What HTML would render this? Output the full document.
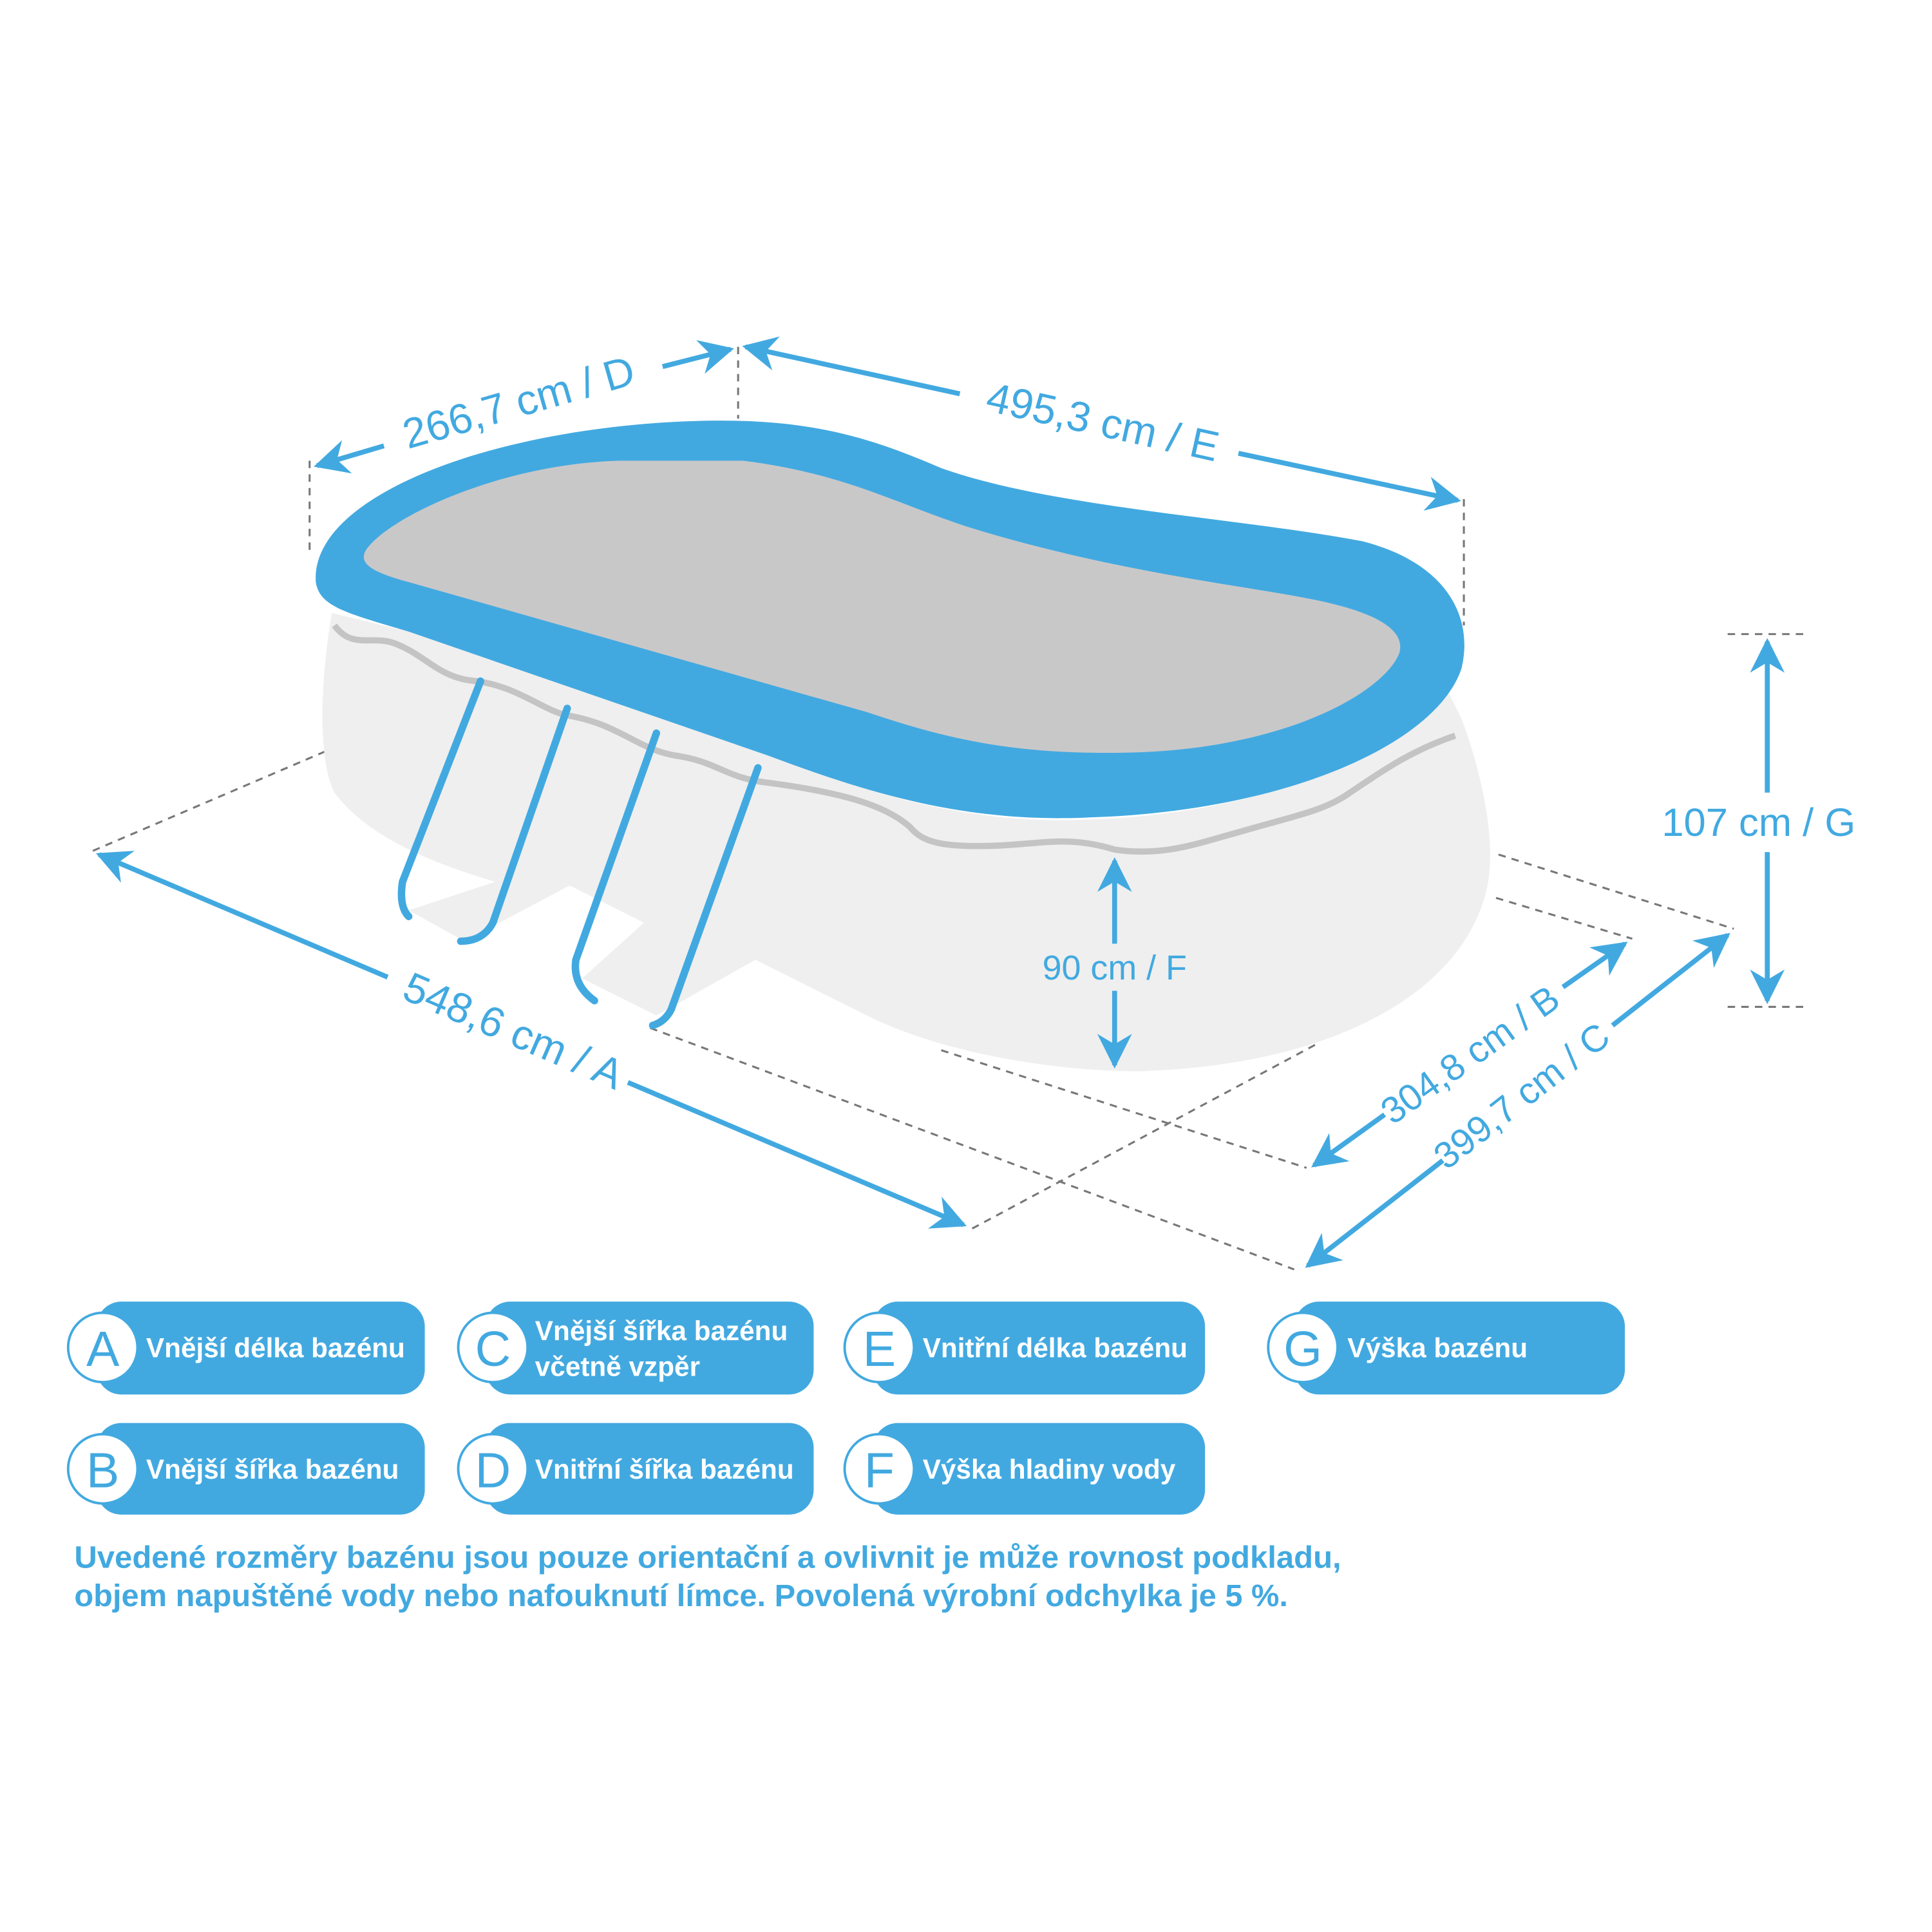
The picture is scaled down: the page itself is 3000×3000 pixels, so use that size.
<!DOCTYPE html>
<html><head><meta charset="utf-8"><style>
html,body{margin:0;padding:0;background:#fff}
svg{display:block}
text{font-family:"Liberation Sans",sans-serif}
</style></head><body>
<svg width="3000" height="3000" viewBox="0 0 1560 1560" xmlns="http://www.w3.org/2000/svg">
<defs>
<marker id="ah" viewBox="0 0 10 10" refX="9" refY="5" markerWidth="7" markerHeight="7" orient="auto-start-reverse" markerUnits="strokeWidth">
<path d="M0,0 L10,5 L0,10 L3,5 Z" fill="#42a9e0"/>
</marker>
</defs>
<rect width="1560" height="1560" fill="#fff"/>
<g stroke="#777" stroke-width="1.6" stroke-dasharray="6,5" fill="none">
<line x1="75" y1="687" x2="262" y2="607"/>
<line x1="1210" y1="690" x2="1400" y2="750"/>
<line x1="1208" y1="725" x2="1318" y2="758"/>
<line x1="525" y1="830" x2="1045" y2="1025"/>
<line x1="760" y1="848" x2="1055" y2="943"/>
<line x1="785" y1="992" x2="1065" y2="842"/>
<line x1="250" y1="372" x2="250" y2="445"/>
<line x1="596" y1="280" x2="596" y2="338"/>
<line x1="1182" y1="403" x2="1182" y2="505"/>
<line x1="1395" y1="512" x2="1460" y2="512"/>
<line x1="1395" y1="813" x2="1460" y2="813"/>
</g>
<path d="M268,495 C260,540 255,610 270,640 C300,680 360,700 400,712 L330,735 L375,760 L460,715 L520,745 L470,790 L530,820 L610,775 L700,820 C760,850 850,865 920,865 C1080,860 1180,800 1200,720 C1210,680 1195,620 1180,580 L1170,560 C1100,630 980,660 870,662 C780,665 700,640 620,610 L330,510 Z" fill="#efefef"/>
<path d="M270,505 C285,525 300,512 320,520 C345,530 355,548 385,550 C420,555 440,575 460,578 C500,585 515,605 545,610 C580,615 585,628 620,632 C680,640 715,650 735,668 C745,680 760,684 800,683 C840,682 860,674 900,686 C940,692 970,680 1000,672 C1040,660 1070,655 1090,640 C1120,620 1140,606 1175,594" fill="none" stroke="#c4c4c4" stroke-width="5"/>
<path d="M255,470 C250,400 400,345 560,340 C650,337 700,352 760,378 C850,410 1000,418 1100,437 C1170,455 1190,500 1180,540 C1160,600 1040,655 880,660 C780,665 700,640 620,610 L330,510 C280,495 258,490 255,470 Z" fill="#42a9e0"/>
<path d="M295,445 C310,420 400,375 500,372 L600,372 C680,382 720,405 780,425 C900,462 1000,472 1060,484 C1110,494 1135,508 1130,527 C1120,555 1050,600 930,607 C820,612 760,595 700,575 L330,470 C300,462 290,455 295,445 Z" fill="#c9c8c9"/>
<g stroke="#42a9e0" stroke-width="6" fill="none" stroke-linecap="round">
<path d="M388,550 L325,712 Q322,732 330,740"/>
<path d="M458,572 L398,745 Q390,760 372,760"/>
<path d="M530,592 L465,775 Q462,795 480,808"/>
<path d="M612,620 L542,815 Q537,825 527,828"/>
</g>
<g stroke="#42a9e0" stroke-width="4" fill="none">
<line x1="80" y1="690" x2="313" y2="789" marker-start="url(#ah)"/>
<line x1="507" y1="874" x2="778" y2="989" marker-end="url(#ah)"/>
<line x1="256" y1="376" x2="310" y2="360" marker-start="url(#ah)"/>
<line x1="535" y1="296" x2="590" y2="282" marker-end="url(#ah)"/>
<line x1="602" y1="280" x2="775" y2="318" marker-start="url(#ah)"/>
<line x1="1000" y1="366" x2="1177" y2="404" marker-end="url(#ah)"/>
<line x1="1061" y1="941" x2="1118" y2="900" marker-start="url(#ah)"/>
<line x1="1262" y1="797" x2="1312" y2="762" marker-end="url(#ah)"/>
<line x1="1056" y1="1022" x2="1165" y2="937" marker-start="url(#ah)"/>
<line x1="1302" y1="828" x2="1395" y2="755" marker-end="url(#ah)"/>
<line x1="1427" y1="518" x2="1427" y2="640" marker-start="url(#ah)"/>
<line x1="1427" y1="688" x2="1427" y2="808" marker-end="url(#ah)"/>
<line x1="900" y1="695" x2="900" y2="762" marker-start="url(#ah)"/>
<line x1="900" y1="800" x2="900" y2="860" marker-end="url(#ah)"/>
</g>
<g fill="#42a9e0" font-size="34" text-anchor="middle">
<text transform="translate(410,843) rotate(23.2)">548,6 cm / A</text>
<text transform="translate(422,336) rotate(-16)">266,7 cm / D</text>
<text transform="translate(888,352) rotate(12.5)">495,3 cm / E</text>
<text transform="translate(1193,860) rotate(-35.5)" font-size="30">304,8 cm / B</text>
<text transform="translate(1235,893) rotate(-38)" font-size="30">399,7 cm / C</text>
<text x="1420" y="675" font-size="32">107 cm / G</text>
<text x="900" y="791" font-size="28">90 cm / F</text>
</g>
<g font-size="22" font-weight="bold">
<g>
<rect x="78" y="1051" width="265" height="75" rx="20" fill="#42a9e0"/>
<circle cx="83" cy="1088" r="28" fill="#fff" stroke="#42a9e0" stroke-width="2"/>
<text x="83" y="1103" font-size="40" font-weight="normal" fill="#42a9e0" text-anchor="middle">A</text>
<text x="118" y="1096" fill="#fff">Vnější délka bazénu</text>
</g>
<g>
<rect x="392" y="1051" width="265" height="75" rx="20" fill="#42a9e0"/>
<circle cx="398" cy="1088" r="28" fill="#fff" stroke="#42a9e0" stroke-width="2"/>
<text x="398" y="1103" font-size="40" font-weight="normal" fill="#42a9e0" text-anchor="middle">C</text>
<text x="432" y="1082" fill="#fff">Vnější šířka bazénu</text>
<text x="432" y="1111" fill="#fff">včetně vzpěr</text>
</g>
<g>
<rect x="705" y="1051" width="268" height="75" rx="20" fill="#42a9e0"/>
<circle cx="710" cy="1088" r="28" fill="#fff" stroke="#42a9e0" stroke-width="2"/>
<text x="710" y="1103" font-size="40" font-weight="normal" fill="#42a9e0" text-anchor="middle">E</text>
<text x="745" y="1096" fill="#fff">Vnitřní délka bazénu</text>
</g>
<g>
<rect x="1045" y="1051" width="267" height="75" rx="20" fill="#42a9e0"/>
<circle cx="1052" cy="1088" r="28" fill="#fff" stroke="#42a9e0" stroke-width="2"/>
<text x="1052" y="1103" font-size="40" font-weight="normal" fill="#42a9e0" text-anchor="middle">G</text>
<text x="1088" y="1096" fill="#fff">Výška bazénu</text>
</g>
<g>
<rect x="78" y="1149" width="265" height="74" rx="20" fill="#42a9e0"/>
<circle cx="83" cy="1186" r="28" fill="#fff" stroke="#42a9e0" stroke-width="2"/>
<text x="83" y="1201" font-size="40" font-weight="normal" fill="#42a9e0" text-anchor="middle">B</text>
<text x="118" y="1194" fill="#fff">Vnější šířka bazénu</text>
</g>
<g>
<rect x="392" y="1149" width="265" height="74" rx="20" fill="#42a9e0"/>
<circle cx="398" cy="1186" r="28" fill="#fff" stroke="#42a9e0" stroke-width="2"/>
<text x="398" y="1201" font-size="40" font-weight="normal" fill="#42a9e0" text-anchor="middle">D</text>
<text x="432" y="1194" fill="#fff">Vnitřní šířka bazénu</text>
</g>
<g>
<rect x="705" y="1149" width="268" height="74" rx="20" fill="#42a9e0"/>
<circle cx="710" cy="1186" r="28" fill="#fff" stroke="#42a9e0" stroke-width="2"/>
<text x="710" y="1201" font-size="40" font-weight="normal" fill="#42a9e0" text-anchor="middle">F</text>
<text x="745" y="1194" fill="#fff">Výška hladiny vody</text>
</g>
</g>
<g fill="#42a9e0" font-size="25" font-weight="bold">
<text x="60" y="1266" textLength="1023" lengthAdjust="spacingAndGlyphs">Uvedené rozměry bazénu jsou pouze orientační a ovlivnit je může rovnost podkladu,</text>
<text x="60" y="1297" textLength="980" lengthAdjust="spacingAndGlyphs">objem napuštěné vody nebo nafouknutí límce. Povolená výrobní odchylka je 5 %.</text>
</g>
</svg>
</body></html>
